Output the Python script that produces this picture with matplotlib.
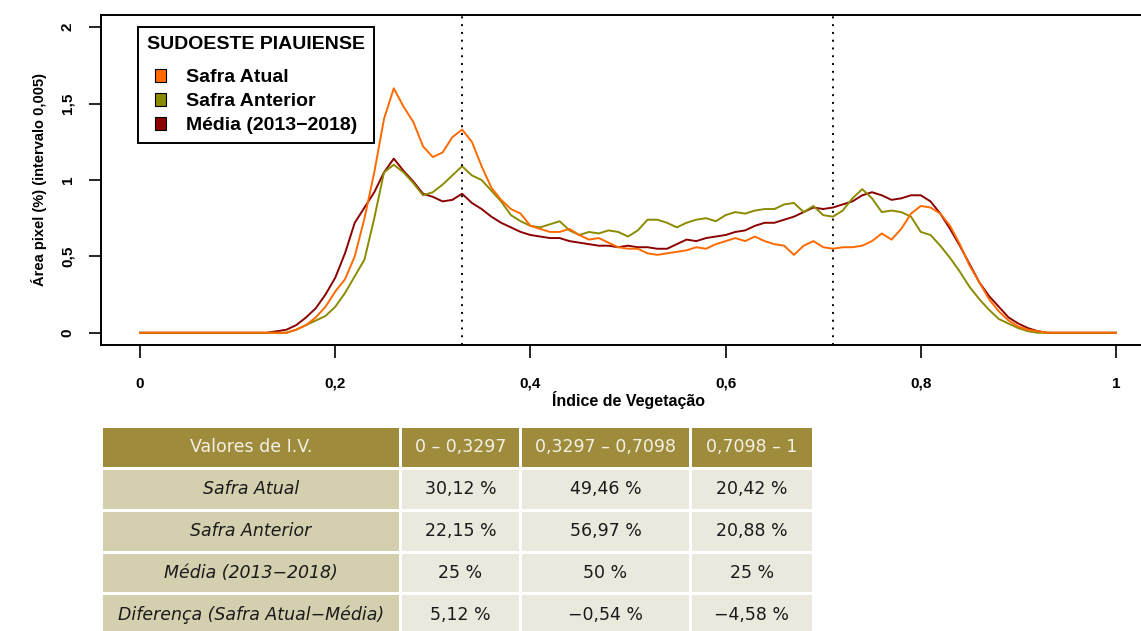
import numpy as np
import matplotlib
matplotlib.use("Agg")
import matplotlib.pyplot as plt
from matplotlib.patches import Rectangle

plt.rcParams['font.family'] = ['Liberation Sans', 'DejaVu Sans']

# indice de vegetacao (bins of 0.01)
iv = np.round(np.arange(0, 1.001, 0.01), 2)

safra_atual = [
    0, 0, 0, 0, 0, 0, 0, 0, 0, 0,
    0, 0, 0, 0, 0, 0.0, 0.02, 0.05, 0.10, 0.17,
    0.27, 0.35, 0.50, 0.75, 1.05, 1.40, 1.60, 1.48, 1.38, 1.22,
    1.15, 1.18, 1.28, 1.33, 1.25, 1.09, 0.95, 0.87, 0.81, 0.78,
    0.70, 0.68, 0.66, 0.66, 0.68, 0.64, 0.61, 0.62, 0.59, 0.56,
    0.55, 0.55, 0.52, 0.51, 0.52, 0.53, 0.54, 0.56, 0.55, 0.58,
    0.60, 0.62, 0.60, 0.63, 0.60, 0.58, 0.57, 0.51, 0.57, 0.60,
    0.56, 0.55, 0.56, 0.56, 0.57, 0.60, 0.65, 0.61, 0.68, 0.78,
    0.83, 0.82, 0.78, 0.70, 0.58, 0.44, 0.33, 0.22, 0.14, 0.08,
    0.04, 0.02, 0.01, 0, 0, 0, 0, 0, 0, 0,
    0]

safra_anterior = [
    0, 0, 0, 0, 0, 0, 0, 0, 0, 0,
    0, 0, 0, 0, 0, 0.0, 0.02, 0.05, 0.08, 0.11,
    0.17, 0.26, 0.37, 0.48, 0.75, 1.05, 1.10, 1.05, 0.98, 0.90,
    0.92, 0.97, 1.03, 1.09, 1.03, 1.00, 0.93, 0.86, 0.77, 0.73,
    0.70, 0.69, 0.71, 0.73, 0.67, 0.64, 0.66, 0.65, 0.67, 0.66,
    0.63, 0.67, 0.74, 0.74, 0.72, 0.69, 0.72, 0.74, 0.75, 0.73,
    0.77, 0.79, 0.78, 0.80, 0.81, 0.81, 0.84, 0.85, 0.79, 0.83,
    0.77, 0.76, 0.80, 0.88, 0.94, 0.88, 0.79, 0.80, 0.79, 0.76,
    0.66, 0.64, 0.57, 0.49, 0.40, 0.30, 0.22, 0.15, 0.09, 0.06,
    0.03, 0.01, 0, 0, 0, 0, 0, 0, 0, 0,
    0]

media = [
    0, 0, 0, 0, 0, 0, 0, 0, 0, 0,
    0, 0, 0, 0, 0.01, 0.02, 0.05, 0.10, 0.16, 0.25,
    0.36, 0.52, 0.72, 0.82, 0.92, 1.05, 1.14, 1.06, 0.99, 0.91,
    0.89, 0.86, 0.87, 0.91, 0.85, 0.81, 0.76, 0.72, 0.69, 0.66,
    0.64, 0.63, 0.62, 0.62, 0.60, 0.59, 0.58, 0.57, 0.57, 0.56,
    0.57, 0.56, 0.56, 0.55, 0.55, 0.58, 0.61, 0.60, 0.62, 0.63,
    0.64, 0.66, 0.67, 0.70, 0.72, 0.72, 0.74, 0.76, 0.79, 0.82,
    0.81, 0.82, 0.84, 0.86, 0.90, 0.92, 0.90, 0.87, 0.88, 0.90,
    0.90, 0.86, 0.78, 0.68, 0.57, 0.45, 0.33, 0.24, 0.17, 0.10,
    0.06, 0.03, 0.01, 0, 0, 0, 0, 0, 0, 0,
    0]

limites = [0.3297, 0.7098]
serie_nomes = ["Safra Atual", "Safra Anterior", "Média (2013−2018)"]
serie_cores = ["#FF6A00", "#8B8B00", "#8B0000"]

x_ticks = [0, 0.2, 0.4, 0.6, 0.8, 1]
x_ticklabels = ["0", "0,2", "0,4", "0,6", "0,8", "1"]
y_ticks = [0, 0.5, 1, 1.5, 2]
y_ticklabels = ["0", "0,5", "1", "1,5", "2"]

tab_header = ["Valores de I.V.", "0 – 0,3297", "0,3297 – 0,7098", "0,7098 – 1"]
tab_linhas = ["Safra Atual", "Safra Anterior", "Média (2013−2018)",
              "Diferença (Safra Atual−Média)"]
tab_col1 = ["30,12 %", "22,15 %", "25 %", "5,12 %"]
tab_col2 = ["49,46 %", "56,97 %", "50 %", "−0,54 %"]
tab_col3 = ["20,42 %", "20,88 %", "25 %", "−4,58 %"]

W, H = 1141, 631
fig = plt.figure(figsize=(W / 100, H / 100), dpi=100)
ax = fig.add_axes([101 / W, (H - 345) / H, 1054 / W, 330 / H])

for vals, nome, cor in zip([media, safra_anterior, safra_atual],
                           serie_nomes[::-1], serie_cores[::-1]):
    ax.plot(iv, vals, color=cor, lw=1.4)

for lim in limites:
    ax.axvline(lim, color='black', ls=(0, (1, 3)), lw=1.4)

ax.set_xlim(-0.04, 1.04)
ax.set_ylim(-0.08, 2.08)
ax.set_xticks(x_ticks)
ax.set_xticklabels(x_ticklabels, fontsize=11, fontweight='bold')
ax.set_yticks(y_ticks)
ax.set_yticklabels(y_ticklabels, fontsize=11, fontweight='bold', rotation=90, va='center')
ax.tick_params(axis='both', direction='out', length=9, width=1.2)
ax.tick_params(axis='x', pad=14)
ax.tick_params(axis='y', pad=10)
for s in ax.spines.values():
    s.set_linewidth(1.4)
ax.set_xlabel("Índice de Vegetação", fontsize=11.5, fontweight='bold', labelpad=0)
ax.set_ylabel("Área pixel (%) (intervalo 0,005)", fontsize=10.5, fontweight='bold', labelpad=10)

handles = [Rectangle((0, 0), 1, 1, facecolor=c, edgecolor='black', lw=0.8) for c in serie_cores]
leg = ax.legend(handles, serie_nomes, title="SUDOESTE PIAUIENSE", loc='upper left',
                bbox_to_anchor=(37 / 1054, 1 - 12 / 330), borderaxespad=0,
                fancybox=False, framealpha=1,
                edgecolor='black', handlelength=0.6, handleheight=0.6, handletextpad=1.0,
                labelspacing=0.36, borderpad=0.45,
                prop={'size': 14, 'weight': 'bold'},
                title_fontproperties={'size': 14, 'weight': 'bold'})
leg.get_frame().set_linewidth(1.4)
leg._legend_box.sep = 12

# tabela
col_edges = [(103, 399), (402, 519), (522, 689), (692, 812)]
row_edges = [(428, 467), (470, 509), (512, 551), (554, 592), (595, 634)]
cor_header = "#9E8B3B"
cor_col0 = "#D4CFAF"
cor_dados = "#EBE9DE"

linhas = [tab_header] + [[tab_linhas[i], tab_col1[i], tab_col2[i], tab_col3[i]]
                         for i in range(len(tab_linhas))]
for r, (y0, y1) in enumerate(row_edges):
    for c, (x0, x1) in enumerate(col_edges):
        if r == 0:
            fc = cor_header
        elif c == 0:
            fc = cor_col0
        else:
            fc = cor_dados
        fig.patches.append(Rectangle((x0 / W, 1 - y1 / H), (x1 - x0) / W, (y1 - y0) / H,
                                     transform=fig.transFigure, facecolor=fc, edgecolor='none'))
        txt = linhas[r][c]
        if r == 0:
            fig.text((x0 + x1) / 2 / W, 1 - (y0 + y1) / 2 / H, txt, ha='center', va='center',
                     color='#F4F1E6', fontsize=12.5, family='DejaVu Sans')
        else:
            fig.text((x0 + x1) / 2 / W, 1 - (y0 + y1) / 2 / H, txt, ha='center', va='center',
                     color='#1A1A1A', fontsize=12.5, family='DejaVu Sans',
                     style='italic' if c == 0 else 'normal')

fig.savefig("out.png", dpi=100)
